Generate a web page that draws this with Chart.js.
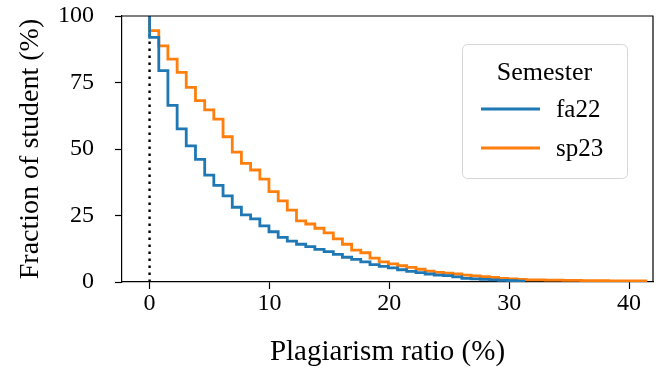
<!DOCTYPE html>
<html><head><meta charset="utf-8">
<script src="https://cdn.jsdelivr.net/npm/chart.js@4"></script>
<style>html,body{margin:0;padding:0;background:#fff}#wrap{width:659px;height:374px}</style>
</head><body><div id="wrap"><canvas id="c" width="659" height="374"></canvas></div>
<script>
const semesters = ['fa22', 'sp23'];
const legendTitle = 'Semester';
const xLabel = 'Plagiarism ratio (%)';
const yLabel = 'Fraction of student (%)';
const xTicks = [0, 10, 20, 30, 40];
const yTicks = [0, 25, 50, 75, 100];

// complementary ECDF step points (x where the step drops, level after the drop)
const fa22X = [0,0.77,1.53,2.3,3.06,3.83,4.6,5.36,6.13,6.9,7.66,8.43,9.2,9.96,10.73,11.49,12.26,13.03,13.79,14.56,15.33,16.09,16.86,17.62,18.39,19.16,19.92,20.69,21.45,22.22,22.99,23.75,24.52,25.29,26.05,26.82,27.58,28.35,29.12,29.88,30.65,31.2];
const fa22Y = [92,79.5,66.4,57.6,51.2,46.1,40.2,36.3,32.4,28.1,25.2,23.7,21.1,18.9,16.8,15.4,14.2,13.3,12.3,11.4,10.4,9.3,8.5,7.6,6.5,5.9,5.3,4.6,4.0,3.5,3.0,2.6,2.4,1.9,1.4,1.2,1.0,0.8,0.6,0.5,0.3,0];
const sp23X = [0,0.77,1.53,2.3,3.06,3.83,4.6,5.36,6.13,6.9,7.66,8.43,9.2,9.96,10.73,11.49,12.26,13.03,13.79,14.56,15.33,16.09,16.86,17.62,18.39,19.16,19.92,20.69,21.45,22.22,22.99,23.75,24.52,25.29,26.05,26.82,27.58,28.35,29.12,29.88,30.65,31.42,33.0,34.5,36.0,38.3,41.4];
const sp23Y = [94.5,88.8,83.8,78.8,73.2,68.2,64.7,61.2,54.6,48.8,44.6,42.1,38.7,34.0,30.5,27.0,23.0,21.8,20.2,18.5,16.2,14.2,12.0,11.0,9.0,7.6,6.8,6.1,5.5,4.8,4.1,3.6,3.3,3.0,2.6,2.3,2.0,1.7,1.4,1.2,1.0,0.8,0.7,0.6,0.5,0.4,0];
const startLevel = 100;

function pts(xs, ys) {
  const p = [{x: xs[0], y: startLevel}];
  for (let i = 0; i < xs.length; i++) p.push({x: xs[i], y: ys[i]});
  return p;
}

const FONT = "'Liberation Serif', 'DejaVu Serif', serif";

const framePlugin = {
  id: 'frame',
  afterDatasetsDraw(chart) {
    const {ctx, chartArea: a} = chart;
    ctx.save();
    ctx.strokeStyle = '#000';
    ctx.lineWidth = 1.2;
    ctx.beginPath();
    ctx.moveTo(a.left, a.top); ctx.lineTo(a.right, a.top); ctx.lineTo(a.right, a.bottom);
    ctx.stroke();
    ctx.restore();
  },
  afterDraw(chart) {
    const ctx = chart.ctx;
    const bx = 462, by = 44, bw = 165, bh = 134;
    ctx.save();
    ctx.beginPath();
    ctx.roundRect(bx + 0.5, by + 0.5, bw, bh, 5);
    ctx.fillStyle = 'rgba(255,255,255,0.85)';
    ctx.fill();
    ctx.strokeStyle = '#d6d6d6';
    ctx.lineWidth = 1;
    ctx.stroke();
    ctx.fillStyle = '#000';
    ctx.font = "26px " + FONT;
    ctx.textAlign = 'center';
    ctx.textBaseline = 'middle';
    ctx.fillText(legendTitle, bx + bw / 2, 73);
    const ds = chart.data.datasets.filter(d => semesters.includes(d.label));
    ds.forEach((d, i) => {
      const y = 109 + i * 39;
      ctx.strokeStyle = d.borderColor;
      ctx.lineWidth = 2.8;
      ctx.beginPath(); ctx.moveTo(481, y); ctx.lineTo(540, y); ctx.stroke();
      ctx.fillStyle = '#000';
      ctx.textAlign = 'left';
      ctx.font = "25px " + FONT;
      ctx.fillText(d.label, 556, y + 1);
    });
    ctx.restore();
  }
};

new Chart(document.getElementById('c'), {
  type: 'line',
  data: {
    datasets: [
      {label: semesters[0], data: pts(fa22X, fa22Y), borderColor: '#1f77b4', borderWidth: 2.8, stepped: 'before', pointRadius: 0, fill: false, order: 1},
      {label: semesters[1], data: pts(sp23X, sp23Y), borderColor: '#ff7f0e', borderWidth: 2.8, stepped: 'before', pointRadius: 0, fill: false, order: 2},
      {label: 'zero', data: [{x: 0, y: 0}, {x: 0, y: 100}], borderColor: '#000', borderWidth: 2.4, borderDash: [2.4, 4.6], pointRadius: 0, fill: false, order: 3}
    ]
  },
  options: {
    responsive: false,
    animation: false,
    layout: {padding: {top: 16, right: 6, left: 0, bottom: 0}},
    plugins: {legend: {display: false}, tooltip: {enabled: false}},
    scales: {
      x: {
        type: 'linear', min: -2.3, max: 42.0,
        afterBuildTicks(s) { s.ticks = xTicks.map(v => ({value: v})); },
        afterFit(s) { s.height = 92; s.paddingLeft = 0; s.paddingRight = 0; },
        grid: {drawOnChartArea: false, drawTicks: true, tickLength: 7, color: '#000', tickWidth: 1.2},
        border: {display: true, color: '#000', width: 1.2},
        ticks: {color: '#000', font: {family: FONT, size: 24}, padding: 0, maxRotation: 0},
        title: {display: true, text: xLabel, color: '#000', font: {family: FONT, size: 29}, padding: {top: 0, bottom: 4}}
      },
      y: {
        min: 0, max: 100,
        afterBuildTicks(s) { s.ticks = yTicks.map(v => ({value: v})); },
        afterFit(s) { s.width = 122; s.paddingTop = 0; s.paddingBottom = 0; },
        grid: {drawOnChartArea: false, drawTicks: true, tickLength: 7, color: '#000', tickWidth: 1.2},
        border: {display: true, color: '#000', width: 1.2},
        ticks: {color: '#000', font: {family: FONT, size: 24}, padding: 21},
        title: {display: true, text: yLabel, color: '#000', font: {family: FONT, size: 28}, padding: {top: 14, bottom: 0}}
      }
    }
  },
  plugins: [framePlugin]
});
</script>
</body></html>
